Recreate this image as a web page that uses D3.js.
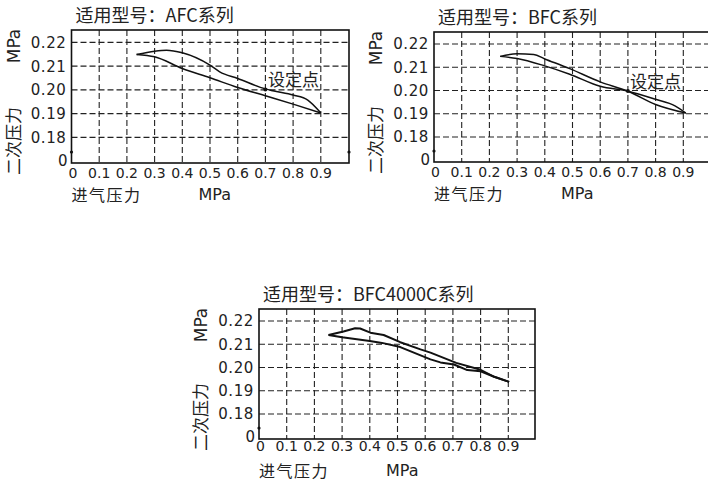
<!DOCTYPE html>
<html lang="zh">
<head>
<meta charset="UTF-8">
<title>二次压力特性</title>
<script src="https://d3js.org/d3.v7.min.js"></script>
<style>
  body { margin: 0; background: #fff; }
  text { fill: #222; }
  .cjk { font-family: "Noto Sans CJK SC", sans-serif; }
  .num { font-family: "DejaVu Sans", sans-serif; }
</style>
</head>
<body>
<div id="chart"></div>
<script>
// tick values
const xTicks = [0, 0.1, 0.2, 0.3, 0.4, 0.5, 0.6, 0.7, 0.8, 0.9];
const yTicks = [0.18, 0.19, 0.20, 0.21, 0.22];
const yTickLabels = ["0.18", "0.19", "0.20", "0.21", "0.22"];
const yBottomLabel = "0";

// curves: [inlet pressure, outlet pressure]
const afcUpper = [[0.235,0.2149],[0.30,0.2163],[0.343,0.2167],[0.40,0.2156],[0.50,0.2104],[0.535,0.2076],[0.60,0.2048],[0.70,0.2004],[0.727,0.1996],[0.80,0.1978],[0.853,0.1957],[0.90,0.1903]];
const afcLower = [[0.235,0.2149],[0.30,0.2139],[0.40,0.2090],[0.50,0.2051],[0.60,0.2010],[0.70,0.1975],[0.80,0.1940],[0.90,0.1903]];
const afcSet = [0.70, 0.2002];

const bfcA = [[0.239,0.2147],[0.30,0.2158],[0.36,0.2155],[0.40,0.2136],[0.49,0.2094],[0.60,0.2037],[0.70,0.1997],[0.80,0.1940],[0.909,0.1903]];
const bfcB = [[0.239,0.2147],[0.30,0.2138],[0.40,0.2106],[0.49,0.2070],[0.60,0.2018],[0.70,0.1997],[0.80,0.1962],[0.87,0.1934],[0.909,0.1903]];
const bfcSet = [0.70, 0.1998];

const bfc4Upper = [[0.251,0.2140],[0.305,0.2155],[0.347,0.2169],[0.365,0.2168],[0.402,0.2150],[0.45,0.2140],[0.51,0.2109],[0.583,0.2078],[0.619,0.2064],[0.712,0.2020],[0.80,0.1990],[0.849,0.1960],[0.903,0.1938]];
const bfc4Lower = [[0.251,0.2140],[0.30,0.2130],[0.40,0.2114],[0.444,0.2106],[0.51,0.2088],[0.619,0.2035],[0.655,0.2022],[0.704,0.2013],[0.752,0.1989],[0.80,0.1984],[0.849,0.1960],[0.903,0.1938]];

const w = 708, h = 487;
const svg = d3.select("#chart").append("svg")
  .attr("width", w).attr("height", h);
svg.append("rect").attr("width", w).attr("height", h).attr("fill", "#fff");

const panels = [
  { title: "适用型号：AFC系列", left: 71.5, right: 349, top: 30, bottom: 163,
    series: [afcUpper, afcLower], set: afcSet, setLabel: [268, 86],
    curve: d3.curveMonotoneX, stroke: 1.5, xLabGap: 15, rightMark: true },
  { title: "适用型号：BFC系列", left: 434, right: 710, top: 32, bottom: 162,
    series: [bfcA, bfcB], set: bfcSet, setLabel: [630, 88],
    curve: d3.curveMonotoneX, stroke: 1.5, xLabGap: 15, rightMark: false },
  { title: "适用型号：BFC4000C系列", left: 259, right: 535, top: 309, bottom: 439,
    series: [bfc4Upper, bfc4Lower], set: null, setLabel: null,
    curve: d3.curveLinear, stroke: 2, xLabGap: 12, rightMark: false }
];

panels.forEach(p => {
  const g = svg.append("g");
  const x = d3.scaleLinear().domain([0, 1]).range([p.left, p.left + 277]);
  const y = d3.scaleLinear().domain([0.1692, 0.2252]).range([p.bottom, p.top]);

  // dashed grid
  g.selectAll(".hgrid").data(yTicks).enter().append("line")
    .attr("x1", p.left).attr("x2", p.right)
    .attr("y1", d => y(d)).attr("y2", d => y(d))
    .attr("stroke", "#222").attr("stroke-width", 1.1).attr("stroke-dasharray", "6,3");
  g.selectAll(".vgrid").data(xTicks.slice(1)).enter().append("line")
    .attr("x1", d => x(d)).attr("x2", d => x(d))
    .attr("y1", p.top).attr("y2", p.bottom)
    .attr("stroke", "#222").attr("stroke-width", 1.1).attr("stroke-dasharray", "6,3");

  // frame
  g.append("rect")
    .attr("x", p.left).attr("y", p.top)
    .attr("width", p.right - p.left).attr("height", p.bottom - p.top)
    .attr("fill", "none").attr("stroke", "#111").attr("stroke-width", 1.6);

  // break marks on the vertical edges
  g.append("circle").attr("cx", p.left).attr("cy", p.bottom - 11).attr("r", 1.6).attr("fill", "#111");
  if (p.rightMark) g.append("circle").attr("cx", p.right).attr("cy", p.bottom - 11).attr("r", 1.6).attr("fill", "#111");

  // curves
  const line = d3.line().x(d => x(d[0])).y(d => y(d[1])).curve(p.curve);
  p.series.forEach(s => {
    g.append("path").attr("d", line(s))
      .attr("fill", "none").attr("stroke", "#111")
      .attr("stroke-width", p.stroke).attr("stroke-linejoin", "round");
  });
  if (p.set) {
    g.append("circle").attr("cx", x(p.set[0])).attr("cy", y(p.set[1])).attr("r", 2).attr("fill", "#111");
    g.append("text").attr("class", "cjk").attr("x", p.setLabel[0]).attr("y", p.setLabel[1])
      .attr("font-size", 17).text("设定点");
  }

  // tick labels
  g.selectAll(".xl").data(xTicks).enter().append("text")
    .attr("class", "num").attr("x", d => x(d) + (d === 0 ? 1.5 : 0)).attr("y", p.bottom + p.xLabGap)
    .attr("text-anchor", "middle").attr("font-size", 14)
    .text(d => d === 0 ? "0" : d3.format(".1f")(d));
  g.selectAll(".yl").data(yTicks).enter().append("text")
    .attr("class", "num").attr("x", p.left - 5).attr("y", d => y(d)).attr("dy", "0.36em")
    .attr("text-anchor", "end").attr("font-size", 15).attr("letter-spacing", 0.6)
    .text((d, i) => yTickLabels[i]);
  g.append("text").attr("class", "num").attr("x", p.left - 4).attr("y", p.bottom + 3)
    .attr("text-anchor", "end").attr("font-size", 15).text(yBottomLabel);

  // titles and axis names
  g.append("text").attr("class", "cjk").attr("x", p.left + 4).attr("y", p.top - 8)
    .attr("font-size", 18).text(p.title);
  g.append("text").attr("class", "cjk").attr("x", p.left).attr("y", p.bottom + 38)
    .attr("font-size", 16).attr("letter-spacing", 1.5).text("进气压力");
  g.append("text").attr("class", "num").attr("x", p.left + 127).attr("y", p.bottom + 37)
    .attr("font-size", 16).text("MPa");
  const ax = p.left - 58;
  g.append("text").attr("class", "num")
    .attr("transform", `translate(${ax + 6},${p.top + 16}) rotate(-90)`)
    .attr("text-anchor", "middle").attr("font-size", 17).text("MPa");
  g.append("text").attr("class", "cjk")
    .attr("transform", `translate(${ax + 6},${p.bottom - 22}) rotate(-90)`)
    .attr("text-anchor", "middle").attr("font-size", 17).text("二次压力");
});
</script>
</body>
</html>
